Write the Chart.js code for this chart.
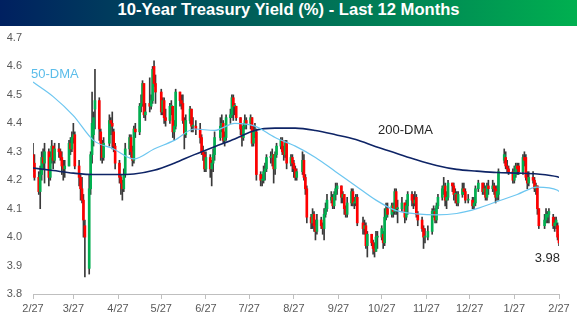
<!DOCTYPE html>
<html>
<head>
<meta charset="utf-8">
<title>10-Year Treasury Yield</title>
<script src="https://cdn.jsdelivr.net/npm/chart.js@4.4.1/dist/chart.umd.min.js"></script>
<style>
  html, body { margin: 0; padding: 0; background: #fff; }
  #wrap { position: relative; width: 577px; height: 327px; }
  #banner {
    position: absolute; left: 0; top: 0; width: 577px; height: 26px;
    background: linear-gradient(to right, #002060, #00B050);
  }
  #banner div {
    position: absolute; left: 0; top: 0; width: 577px; height: 26px;
    text-align: center; line-height: 26px; color: #fff;
    font: bold 16.6px "Liberation Sans", Arial, sans-serif;
  }
  #chart { position: absolute; left: 0; top: 0; }
</style>
</head>
<body>
<div id="wrap">
  <canvas id="chart" width="577" height="327"></canvas>
  <div id="banner"><div>10-Year Treasury Yield (%) - Last 12 Months</div></div>
</div>
<script>
// calendar
const startDate = "2025-02-27";
const endDate = "2026-02-27";
const holidays = ["2025-04-18", "2025-05-26", "2025-06-19", "2025-07-04", "2025-09-01", "2025-10-13",
  "2025-11-11", "2025-11-27", "2025-12-25", "2026-01-01", "2026-01-19", "2026-02-16"];

const tickDates = ["2025-02-27", "2025-03-27", "2025-04-27", "2025-05-27", "2025-06-27", "2025-07-27",
  "2025-08-27", "2025-09-27", "2025-10-27", "2025-11-27", "2025-12-27", "2026-01-27", "2026-02-27"];
const tickLabels = ["2/27", "3/27", "4/27", "5/27", "6/27", "7/27", "8/27", "9/27", "10/27", "11/27", "12/27", "1/27", "2/27"];

// daily candles, one row per week
const open = [
  4.29, 4.26,
  4.21, 4.16, 4.22, 4.28, 4.26,
  4.30, 4.21, 4.28, 4.32, 4.27,
  4.31, 4.30, 4.28, 4.25, 4.24,
  4.25, 4.33, 4.31, 4.35, 4.36,
  4.25, 4.21, 4.17, 4.13, 4.04,
  3.89, 4.17, 4.29, 4.36, 4.45,
  4.48, 4.37, 4.33, 4.28,
  4.33, 4.41, 4.40, 4.37, 4.32,
  4.26, 4.21, 4.19, 4.17, 4.22,
  4.31, 4.35, 4.30, 4.27, 4.38,
  4.37, 4.46, 4.47, 4.54, 4.43,
  4.47, 4.46, 4.48, 4.60, 4.54,
  4.51, 4.44, 4.48, 4.42,
  4.41, 4.46, 4.46, 4.37, 4.39,
  4.51, 4.48, 4.47, 4.41, 4.36,
  4.41, 4.45, 4.39, 4.39,
  4.38, 4.35, 4.30, 4.29, 4.24,
  4.28, 4.24, 4.26, 4.29,
  4.35, 4.39, 4.40, 4.34, 4.35,
  4.42, 4.43, 4.49, 4.46, 4.46,
  4.42, 4.38, 4.35, 4.39, 4.41,
  4.40, 4.42, 4.33, 4.37, 4.37,
  4.22, 4.20, 4.20, 4.23, 4.24,
  4.28, 4.28, 4.29, 4.24, 4.29,
  4.32, 4.34, 4.30, 4.29, 4.33,
  4.26, 4.28, 4.26, 4.24, 4.21,
  4.23, 4.27, 4.21, 4.17,
  4.07, 4.05, 4.08, 4.04, 4.02,
  4.06, 4.04, 4.03, 4.08, 4.10,
  4.13, 4.14, 4.11, 4.15, 4.17,
  4.18, 4.14, 4.15, 4.10, 4.08,
  4.12, 4.16, 4.12, 4.12, 4.14,
  4.05, 4.03, 4.04, 3.97,
  4.01, 3.98, 3.96, 3.95, 4.00,
  4.00, 4.01, 3.98, 4.07, 4.10,
  4.08, 4.11, 4.09, 4.16, 4.10,
  4.10, 4.12, 4.07, 4.11,
  4.15, 4.13, 4.12, 4.14, 4.08,
  4.06, 4.03, 4.00, 4.00,
  4.02, 4.09, 4.09, 4.06, 4.11,
  4.14, 4.17, 4.18, 4.13, 4.14,
  4.19, 4.18, 4.15, 4.15, 4.12,
  4.15, 4.17, 4.16, 4.13,
  4.13, 4.11, 4.12, 4.17,
  4.19, 4.16, 4.17, 4.14, 4.18,
  4.17, 4.18, 4.17, 4.14, 4.15,
  4.27, 4.28, 4.25, 4.24,
  4.23, 4.20, 4.22, 4.25, 4.25,
  4.23, 4.28, 4.28, 4.21, 4.19,
  4.21, 4.20, 4.17, 4.18, 4.10,
  4.04, 4.06, 4.07, 4.08,
  4.07, 4.04, 4.05, 4.04, 4.00
];
const high = [
  4.33, 4.29,
  4.23, 4.25, 4.30, 4.31, 4.33,
  4.31, 4.30, 4.34, 4.32, 4.33,
  4.33, 4.31, 4.30, 4.27, 4.27,
  4.34, 4.35, 4.37, 4.40, 4.37,
  4.27, 4.22, 4.21, 4.15, 4.06,
  4.22, 4.30, 4.51, 4.44, 4.59,
  4.49, 4.38, 4.34, 4.35,
  4.43, 4.42, 4.44, 4.38, 4.33,
  4.27, 4.22, 4.20, 4.24, 4.33,
  4.36, 4.36, 4.32, 4.39, 4.40,
  4.47, 4.50, 4.55, 4.54, 4.47,
  4.56, 4.50, 4.60, 4.62, 4.57,
  4.52, 4.49, 4.49, 4.45,
  4.47, 4.48, 4.46, 4.41, 4.52,
  4.51, 4.50, 4.50, 4.42, 4.43,
  4.46, 4.45, 4.42, 4.41,
  4.40, 4.36, 4.32, 4.30, 4.30,
  4.29, 4.27, 4.31, 4.37,
  4.42, 4.43, 4.41, 4.37, 4.43,
  4.45, 4.50, 4.50, 4.47, 4.46,
  4.42, 4.39, 4.40, 4.43, 4.42,
  4.43, 4.42, 4.39, 4.40, 4.38,
  4.23, 4.22, 4.25, 4.26, 4.29,
  4.30, 4.31, 4.29, 4.30, 4.33,
  4.35, 4.35, 4.32, 4.34, 4.34,
  4.29, 4.29, 4.27, 4.25, 4.24,
  4.30, 4.29, 4.22, 4.18,
  4.08, 4.10, 4.09, 4.06, 4.08,
  4.07, 4.05, 4.10, 4.12, 4.15,
  4.16, 4.15, 4.16, 4.19, 4.19,
  4.18, 4.16, 4.15, 4.11, 4.14,
  4.17, 4.17, 4.14, 4.15, 4.15,
  4.07, 4.06, 4.05, 4.02,
  4.01, 3.99, 3.98, 4.02, 4.02,
  4.04, 4.02, 4.10, 4.12, 4.12,
  4.12, 4.12, 4.17, 4.17, 4.13,
  4.14, 4.12, 4.13, 4.16,
  4.16, 4.15, 4.16, 4.15, 4.09,
  4.07, 4.04, 4.03, 4.04,
  4.10, 4.11, 4.10, 4.12, 4.15,
  4.18, 4.21, 4.19, 4.16, 4.20,
  4.19, 4.19, 4.17, 4.16, 4.16,
  4.19, 4.19, 4.17, 4.15,
  4.14, 4.14, 4.18, 4.20,
  4.19, 4.19, 4.18, 4.19, 4.20,
  4.20, 4.19, 4.18, 4.18, 4.24,
  4.31, 4.30, 4.27, 4.25,
  4.24, 4.25, 4.26, 4.26, 4.26,
  4.29, 4.30, 4.29, 4.23, 4.23,
  4.23, 4.21, 4.19, 4.18, 4.10,
  4.08, 4.10, 4.09, 4.10,
  4.08, 4.07, 4.07, 4.05, 4.01
];
const low = [
  4.23, 4.20,
  4.15, 4.10, 4.20, 4.24, 4.19,
  4.18, 4.20, 4.26, 4.24, 4.26,
  4.28, 4.27, 4.22, 4.20, 4.21,
  4.25, 4.29, 4.30, 4.33, 4.24,
  4.18, 4.13, 4.12, 4.00, 3.86,
  3.87, 4.15, 4.26, 4.32, 4.38,
  4.34, 4.27, 4.26, 4.27,
  4.32, 4.36, 4.31, 4.30, 4.24,
  4.19, 4.15, 4.13, 4.16, 4.21,
  4.29, 4.28, 4.25, 4.26, 4.35,
  4.36, 4.44, 4.46, 4.42, 4.41,
  4.44, 4.45, 4.47, 4.53, 4.47,
  4.43, 4.43, 4.40, 4.39,
  4.40, 4.43, 4.35, 4.34, 4.38,
  4.46, 4.45, 4.40, 4.31, 4.35,
  4.40, 4.37, 4.37, 4.36,
  4.33, 4.29, 4.27, 4.23, 4.23,
  4.21, 4.18, 4.23, 4.27,
  4.34, 4.37, 4.33, 4.32, 4.34,
  4.40, 4.42, 4.41, 4.43, 4.41,
  4.36, 4.32, 4.34, 4.38, 4.38,
  4.38, 4.32, 4.32, 4.35, 4.20,
  4.18, 4.18, 4.19, 4.20, 4.23,
  4.26, 4.25, 4.19, 4.22, 4.28,
  4.31, 4.29, 4.27, 4.28, 4.24,
  4.25, 4.23, 4.21, 4.20, 4.20,
  4.22, 4.20, 4.15, 4.05,
  4.03, 4.03, 4.02, 3.99, 4.01,
  4.03, 4.01, 3.99, 4.07, 4.09,
  4.12, 4.10, 4.10, 4.13, 4.15,
  4.12, 4.12, 4.08, 4.07, 4.07,
  4.11, 4.11, 4.10, 4.11, 4.04,
  4.01, 4.01, 3.96, 3.93,
  3.97, 3.94, 3.93, 3.95, 3.96,
  3.99, 3.96, 3.97, 4.06, 4.07,
  4.07, 4.07, 4.08, 4.08, 4.05,
  4.09, 4.05, 4.06, 4.08,
  4.11, 4.10, 4.11, 4.07, 4.04,
  4.02, 3.96, 3.98, 3.99,
  4.01, 4.07, 4.05, 4.05, 4.10,
  4.13, 4.15, 4.11, 4.10, 4.13,
  4.16, 4.13, 4.12, 4.11, 4.11,
  4.14, 4.15, 4.12, 4.12,
  4.10, 4.10, 4.11, 4.16,
  4.15, 4.15, 4.13, 4.13, 4.15,
  4.16, 4.15, 4.12, 4.13, 4.13,
  4.26, 4.24, 4.23, 4.22,
  4.19, 4.19, 4.21, 4.22, 4.22,
  4.22, 4.25, 4.20, 4.17, 4.18,
  4.19, 4.16, 4.15, 4.08, 4.03,
  4.03, 4.05, 4.05, 4.05,
  4.03, 4.02, 4.03, 3.99, 3.97
];
const close = [
  4.26, 4.21,
  4.16, 4.22, 4.28, 4.26, 4.30,
  4.21, 4.28, 4.32, 4.27, 4.31,
  4.30, 4.28, 4.25, 4.24, 4.25,
  4.33, 4.31, 4.35, 4.36, 4.25,
  4.21, 4.17, 4.13, 4.06, 4.00,
  4.17, 4.29, 4.40, 4.42, 4.48,
  4.38, 4.33, 4.28, 4.33,
  4.41, 4.40, 4.39, 4.32, 4.26,
  4.21, 4.19, 4.17, 4.22, 4.31,
  4.35, 4.30, 4.27, 4.38, 4.37,
  4.46, 4.47, 4.54, 4.43, 4.44,
  4.46, 4.48, 4.59, 4.54, 4.51,
  4.44, 4.48, 4.42, 4.41,
  4.46, 4.46, 4.37, 4.39, 4.51,
  4.48, 4.47, 4.41, 4.36, 4.41,
  4.45, 4.39, 4.39, 4.38,
  4.35, 4.30, 4.29, 4.24, 4.28,
  4.24, 4.26, 4.29, 4.35,
  4.39, 4.40, 4.34, 4.35, 4.42,
  4.43, 4.49, 4.46, 4.46, 4.42,
  4.38, 4.35, 4.39, 4.41, 4.40,
  4.42, 4.33, 4.37, 4.37, 4.22,
  4.20, 4.20, 4.23, 4.24, 4.28,
  4.28, 4.29, 4.24, 4.29, 4.32,
  4.34, 4.30, 4.29, 4.33, 4.26,
  4.28, 4.26, 4.24, 4.21, 4.23,
  4.27, 4.21, 4.17, 4.07,
  4.05, 4.08, 4.04, 4.02, 4.06,
  4.04, 4.03, 4.08, 4.10, 4.13,
  4.14, 4.11, 4.15, 4.17, 4.18,
  4.14, 4.15, 4.10, 4.08, 4.12,
  4.16, 4.12, 4.12, 4.14, 4.05,
  4.03, 4.04, 3.97, 4.01,
  3.98, 3.96, 3.95, 4.00, 4.00,
  4.03, 3.98, 4.07, 4.10, 4.08,
  4.11, 4.09, 4.16, 4.10, 4.10,
  4.12, 4.07, 4.11, 4.15,
  4.13, 4.12, 4.13, 4.08, 4.06,
  4.03, 4.00, 4.00, 4.02,
  4.09, 4.09, 4.06, 4.11, 4.14,
  4.17, 4.18, 4.13, 4.14, 4.19,
  4.18, 4.15, 4.15, 4.12, 4.15,
  4.17, 4.16, 4.13, 4.13,
  4.11, 4.12, 4.17, 4.19,
  4.16, 4.17, 4.14, 4.18, 4.17,
  4.18, 4.17, 4.14, 4.16, 4.23,
  4.29, 4.25, 4.24, 4.23,
  4.20, 4.23, 4.25, 4.24, 4.23,
  4.28, 4.27, 4.21, 4.19, 4.21,
  4.20, 4.17, 4.18, 4.10, 4.04,
  4.06, 4.08, 4.08, 4.09,
  4.04, 4.05, 4.06, 4.00, 3.98
];

// moving averages read every two weeks (days after 2/27/2025)
const maDays = [0, 14, 28, 42, 56, 70, 84, 98, 112, 126, 140, 154, 168, 182, 196, 210,
  224, 238, 252, 266, 280, 294, 308, 322, 336, 350, 364, 365];
const ma50 = [4.545, 4.494, 4.427, 4.34, 4.31, 4.275, 4.31, 4.34, 4.38, 4.375, 4.40, 4.39, 4.35, 4.32, 4.28, 4.23,
  4.18, 4.13, 4.093, 4.082, 4.078, 4.083, 4.10, 4.125, 4.15, 4.176, 4.165, 4.16];
const ma200 = [4.243, 4.234, 4.225, 4.22, 4.22, 4.222, 4.235, 4.26, 4.29, 4.318, 4.345, 4.375, 4.383, 4.383, 4.375, 4.36,
  4.343, 4.318, 4.295, 4.272, 4.252, 4.238, 4.232, 4.227, 4.225, 4.222, 4.212, 4.21];

const DAY = 864e5;
const dayOf = (d) => (Date.parse(d) - Date.parse(startDate)) / DAY;

const tradingDays = [];
for (let t = Date.parse(startDate); t <= Date.parse(endDate); t += DAY) {
  const d = new Date(t);
  const iso = d.toISOString().slice(0, 10);
  const wd = d.getUTCDay();
  if (wd === 0 || wd === 6 || holidays.includes(iso)) continue;
  tradingDays.push(iso);
}
if (tradingDays.length !== close.length) console.error("day count", tradingDays.length, close.length);

const wicks = tradingDays.map((d, i) => ({ x: dayOf(d), y: [low[i], high[i]] }));
const bodies = tradingDays.map((d, i) => ({ x: dayOf(d), y: [open[i], close[i]] }));
const bodyColors = close.map((c, i) => (c >= open[i] ? "#00B050" : "#FF0000"));

const FONT = "'Liberation Sans', Arial, sans-serif";

const labelsPlugin = {
  id: "lineLabels",
  afterDatasetsDraw(chart) {
    const { ctx, scales: { x, y } } = chart;
    ctx.save();
    ctx.font = "13px " + FONT;
    ctx.textBaseline = "middle";
    ctx.textAlign = "left";
    ctx.fillStyle = "#5BBDEA";
    ctx.fillText("50-DMA", x.getPixelForValue(0) - 2, y.getPixelForValue(ma50[0]) - 8);
    ctx.fillStyle = "#262626";
    ctx.fillText("200-DMA", x.getPixelForValue(maDays[17]) + 2, y.getPixelForValue(ma200[17]) - 16);
    ctx.textAlign = "right";
    const last = close.length - 1;
    ctx.fillText(close[last].toFixed(2), x.getPixelForValue(dayOf(tradingDays[last])) + 1, y.getPixelForValue(close[last]) + 16);
    ctx.restore();
  }
};

new Chart(document.getElementById("chart").getContext("2d"), {
  type: "bar",
  data: {
    datasets: [
      {
        type: "line",
        label: "50-DMA",
        data: maDays.map((d, i) => ({ x: d, y: ma50[i] })),
        borderColor: "#6CC6F0",
        borderWidth: 1.2,
        pointRadius: 0,
        cubicInterpolationMode: "monotone",
        order: 0
      },
      {
        type: "line",
        label: "200-DMA",
        data: maDays.map((d, i) => ({ x: d, y: ma200[i] })),
        borderColor: "#0E2466",
        borderWidth: 1.6,
        pointRadius: 0,
        cubicInterpolationMode: "monotone",
        order: 1
      },
      {
        label: "body",
        data: bodies,
        backgroundColor: bodyColors,
        barThickness: 2,
        minBarLength: 1,
        grouped: false,
        order: 2
      },
      {
        label: "wick",
        data: wicks,
        backgroundColor: "#3A3A3A",
        barThickness: 1,
        grouped: false,
        order: 3
      }
    ]
  },
  options: {
    responsive: false,
    animation: false,
    layout: { padding: { top: 38, right: 18, bottom: 0, left: 0 } },
    plugins: { legend: { display: false }, tooltip: { enabled: false }, title: { display: false } },
    scales: {
      x: {
        type: "linear",
        min: 0,
        max: dayOf(endDate),
        offset: false,
        afterFit(scale) { scale.height = 33; },
        afterBuildTicks(scale) { scale.ticks = tickDates.map((d) => ({ value: dayOf(d) })); },
        grid: { display: true, drawOnChartArea: false, drawTicks: true, tickLength: 5, color: "#BFBFBF", offset: false },
        border: { display: true, color: "#BFBFBF" },
        ticks: {
          autoSkip: false,
          maxRotation: 0,
          padding: 3,
          color: "#595959",
          font: { family: FONT, size: 11 },
          callback: (v, i) => tickLabels[i]
        }
      },
      y: {
        type: "linear",
        min: 3.8,
        max: 4.7,
        beginAtZero: false,
        afterFit(scale) { scale.width = 33; },
        grid: { display: false, drawTicks: false },
        border: { display: false },
        ticks: {
          stepSize: 0.1,
          padding: 11,
          color: "#595959",
          font: { family: FONT, size: 11 },
          callback: (v) => v.toFixed(1)
        }
      }
    }
  },
  plugins: [labelsPlugin]
});
</script>
</body>
</html>
